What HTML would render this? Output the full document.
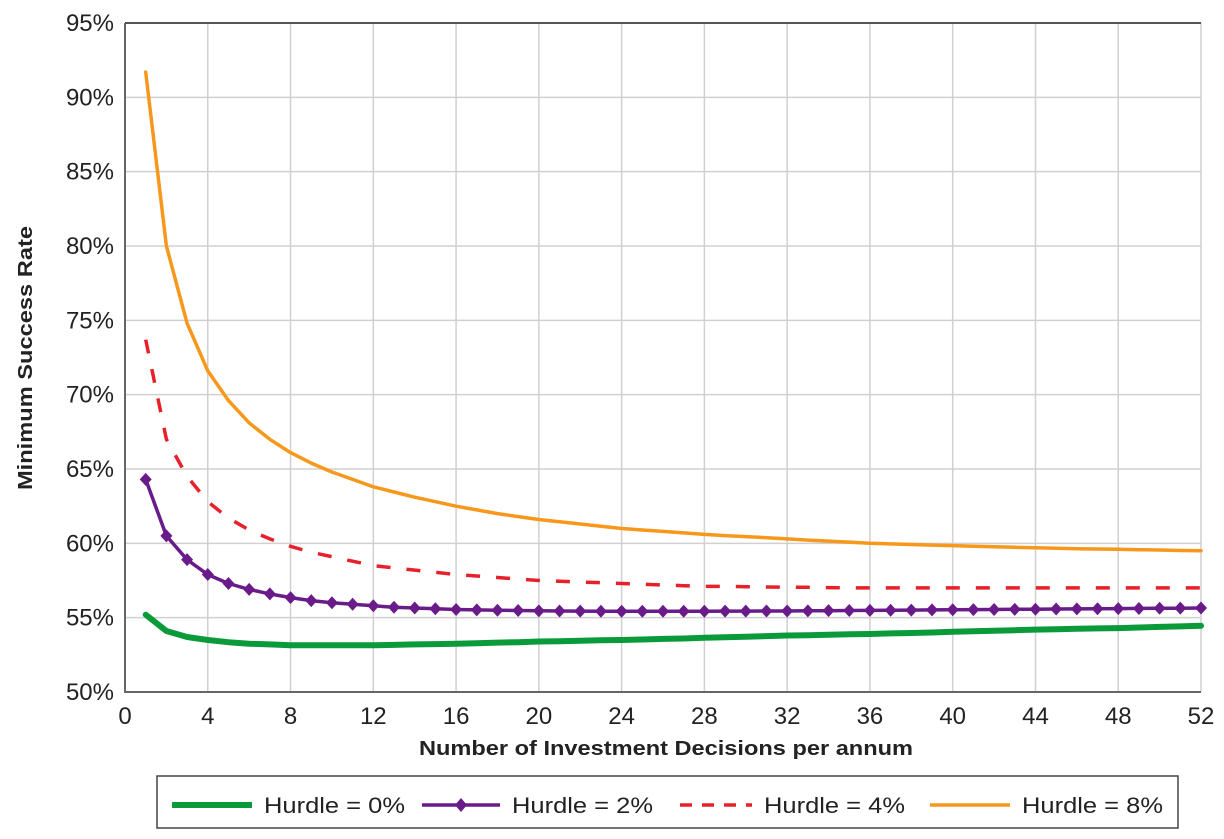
<!DOCTYPE html>
<html><head><meta charset="utf-8"><style>
body{margin:0;background:#fff;width:1224px;height:834px;overflow:hidden}
svg text{font-family:"Liberation Sans",sans-serif;fill:#222}
</style></head><body>
<svg id="chart" width="1224" height="834" xmlns="http://www.w3.org/2000/svg">
<g id="grid"></g>
<g id="series"></g>
<g id="axes"></g>
<text transform="translate(32,358) rotate(-90)" text-anchor="middle" font-size="20" font-weight="bold" textLength="264" lengthAdjust="spacingAndGlyphs">Minimum Success Rate</text>
<text x="666" y="755" text-anchor="middle" font-size="20" font-weight="bold" textLength="494" lengthAdjust="spacingAndGlyphs">Number of Investment Decisions per annum</text>
<g>
<rect x="157" y="776" width="1021" height="52" fill="#fff" stroke="#444" stroke-width="1.5"/>
<g><line x1="172" y1="805" x2="252" y2="805" stroke="#0b9a3a" stroke-width="6"/><text x="264" y="813" font-size="22" textLength="141" lengthAdjust="spacingAndGlyphs">Hurdle = 0%</text></g>
<g><line x1="422" y1="805" x2="500" y2="805" stroke="#6a1b8a" stroke-width="3.5"/><path d="M461 798 L467 805 L461 812 L455 805Z" fill="#6a1b8a"/><text x="512" y="813" font-size="22" textLength="141" lengthAdjust="spacingAndGlyphs">Hurdle = 2%</text></g>
<g><line x1="680" y1="805" x2="752" y2="805" stroke="#e8202a" stroke-width="3.5" stroke-dasharray="12,10"/><text x="764" y="813" font-size="22" textLength="141" lengthAdjust="spacingAndGlyphs">Hurdle = 4%</text></g>
<g><line x1="930" y1="805" x2="1010" y2="805" stroke="#f7981d" stroke-width="3.5"/><text x="1022" y="813" font-size="22" textLength="141" lengthAdjust="spacingAndGlyphs">Hurdle = 8%</text></g>
</g>
</svg>
<script>
const xs = [];
for (let i = 1; i <= 52; i++) xs.push(i);
const xTicks = [0,4,8,12,16,20,24,28,32,36,40,44,48,52];
const yTicks = [50,55,60,65,70,75,80,85,90,95];
const hurdle0 = [55.2,54.1,53.7,53.5,53.35,53.25,53.2,53.15,53.15,53.15,53.15,53.15,53.17,53.2,53.22,53.25,53.28,53.32,53.35,53.4,53.42,53.45,53.48,53.5,53.53,53.57,53.6,53.65,53.68,53.72,53.76,53.8,53.82,53.85,53.88,53.9,53.94,53.97,54.0,54.05,54.08,54.12,54.16,54.2,54.22,54.25,54.28,54.3,54.34,54.38,54.41,54.45];
const hurdle2 = [64.3,60.5,58.9,57.9,57.3,56.9,56.6,56.35,56.15,56.0,55.9,55.8,55.7,55.65,55.6,55.55,55.52,55.5,55.48,55.46,55.45,55.44,55.43,55.43,55.43,55.43,55.43,55.43,55.44,55.44,55.45,55.45,55.46,55.47,55.48,55.49,55.5,55.51,55.52,55.53,55.54,55.55,55.56,55.57,55.58,55.59,55.6,55.61,55.62,55.63,55.64,55.65];
const hurdle4 = [73.7,67.0,64.5,62.8,61.7,60.9,60.3,59.8,59.4,59.1,58.8,58.5,58.35,58.2,58.05,57.9,57.8,57.7,57.6,57.5,57.45,57.4,57.35,57.3,57.25,57.2,57.15,57.1,57.1,57.08,57.06,57.05,57.04,57.02,57.01,57.0,57.0,57.0,57.0,57.0,57.0,57.0,57.0,57.0,57.0,57.0,57.0,57.0,57.0,57.0,57.0,57.0];
const hurdle8 = [91.7,80.0,74.8,71.6,69.6,68.1,67.0,66.1,65.4,64.8,64.3,63.8,63.45,63.1,62.8,62.5,62.25,62.0,61.8,61.6,61.45,61.3,61.15,61.0,60.9,60.8,60.7,60.6,60.52,60.45,60.38,60.3,60.22,60.15,60.08,60.0,59.96,59.92,59.88,59.85,59.81,59.77,59.73,59.7,59.67,59.64,59.62,59.6,59.57,59.55,59.52,59.5];

const X0=125, X1=1201, Y0=692, Y1=23;
const sx = v => X0 + (v-0)/52*(X1-X0);
const sy = v => Y0 - (v-50)/45*(Y0-Y1);
const NS="http://www.w3.org/2000/svg";
function mk(tag, attrs, parent){const e=document.createElementNS(NS,tag);for(const k in attrs)e.setAttribute(k,attrs[k]);parent.appendChild(e);return e;}
const gridG=document.getElementById('grid'), axesG=document.getElementById('axes'), serG=document.getElementById('series');
xTicks.forEach(t=>{
  const l=mk('line',{x1:sx(t),x2:sx(t),y1:Y1,y2:Y0,stroke:'#d0d0d0','stroke-width':1.5},gridG);
  
  
  const tx=mk('text',{x:sx(t),y:Y0+32,'text-anchor':'middle','font-size':24},axesG);
  tx.textContent=t;
  
  
});
yTicks.forEach(t=>{
  const l=mk('line',{x1:X0,x2:X1,y1:sy(t),y2:sy(t),stroke:'#d0d0d0','stroke-width':1.5},gridG);
  
  
  const tx=mk('text',{x:X0-11,y:sy(t)+8,'text-anchor':'end','font-size':24},axesG);
  tx.textContent=t+'%';
  
  
});
const axPath=mk('path',{d:`M${X0} ${Y1} L${X0} ${Y0} L${X1} ${Y0}`,fill:'none',stroke:'#666','stroke-width':2},axesG);


const topBorder=mk('line',{x1:X0,x2:X1,y1:Y1,y2:Y1,stroke:'#555','stroke-width':2},axesG);


function pts(arr){return arr.map((v,i)=>sx(xs[i]).toFixed(1)+','+sy(v).toFixed(1)).join(' ');}
const l0=mk('polyline',{points:pts(hurdle0),fill:'none',stroke:'#0b9a3a','stroke-width':6,'stroke-linejoin':'round','stroke-linecap':'round'},serG);


const l4=mk('polyline',{points:pts(hurdle4),fill:'none',stroke:'#e8202a','stroke-width':3.5,'stroke-dasharray':'14,16'},serG);


const l8=mk('polyline',{points:pts(hurdle8),fill:'none',stroke:'#f7981d','stroke-width':3.5,'stroke-linejoin':'round','stroke-linecap':'round'},serG);


const l2=mk('polyline',{points:pts(hurdle2),fill:'none',stroke:'#6a1b8a','stroke-width':3.5,'stroke-linejoin':'round'},serG);


hurdle2.forEach((v,i)=>{
  const x=sx(xs[i]), y=sy(v);
  const m=mk('path',{d:`M${x} ${y-6.5} L${x+6} ${y} L${x} ${y+6.5} L${x-6} ${y}Z`,fill:'#6a1b8a'},serG);
  
  
});
</script>
</body></html>
